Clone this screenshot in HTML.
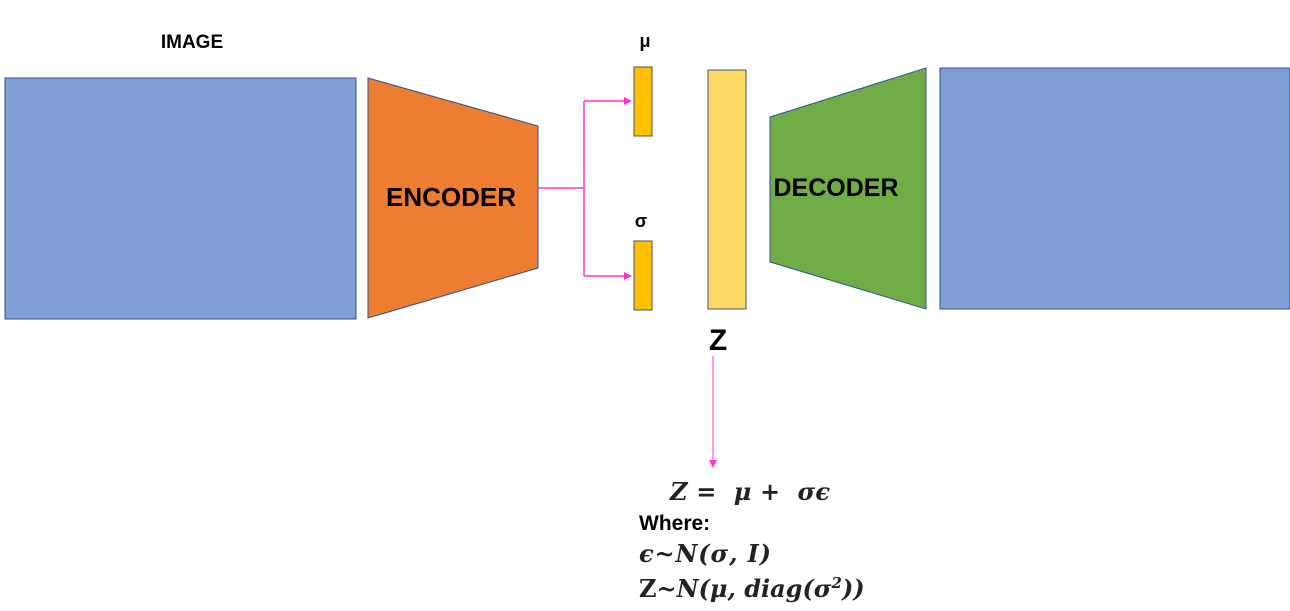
<!DOCTYPE html>
<html><head><meta charset="utf-8"><style>
html,body{margin:0;padding:0;background:#fff;width:1290px;height:611px;overflow:hidden}
svg{display:block}
.lbl{font-family:"Liberation Sans",sans-serif;font-weight:bold;fill:#000}
.math{font-family:"DejaVu Serif","Liberation Serif",serif;font-weight:bold;font-style:italic;fill:#222}
</style></head><body>
<svg width="1290" height="611" viewBox="0 0 1290 611">
<defs><marker id="ah" markerWidth="8" markerHeight="8" refX="7" refY="4" orient="auto" markerUnits="userSpaceOnUse"><path d="M0,0 L8,4 L0,8 z" fill="#FF33CC"/></marker></defs>
<text class="lbl" x="192" y="48" font-size="19" text-anchor="middle">IMAGE</text>
<rect x="5" y="78" width="351" height="241" fill="#7F9FD5" stroke="#2F528F" stroke-width="1"/>
<polygon points="368,78 538,126 538,268 368,318" fill="#ED7D31" stroke="#2F528F" stroke-width="1"/>
<text class="lbl" x="451" y="206" font-size="26" text-anchor="middle">ENCODER</text>
<g stroke="#FF33CC" stroke-width="1.5" fill="none">
<line x1="538" y1="188" x2="584" y2="188"/>
<line x1="584" y1="101" x2="584" y2="276"/>
<line x1="584" y1="101" x2="631" y2="101" marker-end="url(#ah)"/>
<line x1="584" y1="276" x2="631" y2="276" marker-end="url(#ah)"/>
</g>
<text class="lbl" x="645" y="47" font-size="18" text-anchor="middle">μ</text>
<rect x="634" y="67" width="18" height="69" fill="#FFC000" stroke="#44546A" stroke-width="1"/>
<text class="lbl" x="641" y="227" font-size="18" text-anchor="middle">σ</text>
<rect x="634" y="241" width="18" height="69" fill="#FFC000" stroke="#44546A" stroke-width="1"/>
<rect x="708" y="70" width="38" height="239" fill="#FFD966" stroke="#44546A" stroke-width="1"/>
<text class="lbl" x="718" y="350" font-size="30" text-anchor="middle">Z</text>
<polygon points="770,117 926,68 926,309 770,262" fill="#70AD47" stroke="#2F528F" stroke-width="1"/>
<text class="lbl" x="836" y="196" font-size="25" text-anchor="middle">DECODER</text>
<rect x="940" y="68" width="350" height="241" fill="#7F9FD5" stroke="#2F528F" stroke-width="1"/>
<line x1="713" y1="356" x2="713" y2="467" stroke="#FF33CC" stroke-width="1" marker-end="url(#ah)"/>
<text class="math" x="670" y="500" font-size="24" textLength="160" lengthAdjust="spacing">Z = &#160;μ + &#160;σϵ</text>
<text class="lbl" x="639" y="530" font-size="21" fill="#222">Where:</text>
<text class="math" x="639" y="562" font-size="24" textLength="132" lengthAdjust="spacing">ϵ~N(σ, I)</text>
<text class="math" x="639" y="597" font-size="24"><tspan font-style="normal">Z</tspan>~N(μ, diag(σ<tspan font-size="15" dy="-9">2</tspan><tspan dy="9">))</tspan></text>
</svg>
</body></html>
